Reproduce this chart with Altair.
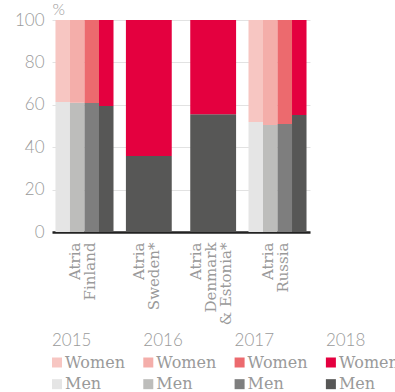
import altair as alt
import pandas as pd

groups = ["Atria|Finland", "Atria|Sweden*", "Atria|Denmark|& Estonia*", "Atria|Russia"]
years = ["2015", "2016", "2017", "2018"]
genders = ["Women", "Men"]
finland_men = [61.3, 61.0, 60.8, 59.4]
russia_men = [51.9, 50.5, 50.9, 55.2]
sweden_men_2018 = 35.8
denmark_men_2018 = 55.5
women_colors = ["#f7c6c2", "#f4aeaa", "#ec6a6e", "#e4003f"]
men_colors = ["#e5e5e5", "#bdbdbb", "#7e7e7e", "#575756"]
y_ticks = [0, 20, 40, 60, 80, 100]

rows = []
def add(group, year, men, multi):
    rows.append(dict(group=group, year=year, key="Men " + year, lo=0, hi=men, multi=multi))
    rows.append(dict(group=group, year=year, key="Women " + year, lo=men, hi=100, multi=multi))

for yr, m in zip(years, finland_men):
    add(groups[0], yr, m, True)
add(groups[1], "2018", sweden_men_2018, False)
add(groups[2], "2018", denmark_men_2018, False)
for yr, m in zip(years, russia_men):
    add(groups[3], yr, m, True)
df = pd.DataFrame(rows)

keys = ["Women " + y for y in years] + ["Men " + y for y in years]
color = alt.Color("key:N", scale=alt.Scale(domain=keys, range=women_colors + men_colors), legend=None)

NUM_FONT = "Lato"
TXT_FONT = "DejaVu Serif"
GREY = "#9a9a9a"

x = alt.X("group:N", title=None,
          scale=alt.Scale(domain=groups, paddingInner=0.098, paddingOuter=0.054),
          axis=alt.Axis(labelExpr="split(datum.label, '|')", labelAngle=270,
                        labelAlign="right", labelBaseline="middle", labelPadding=10,
                        labelOffset={"condition": {"test": "indexof(datum.value, 'Denmark') >= 0", "value": -17},
                                     "value": -9.5},
                        labelFont=TXT_FONT, labelFontSize=15, labelColor=GREY,
                        labelLineHeight=15, ticks=False, domainColor="#222222",
                        domainWidth=2.5, grid=False))
y = alt.Y("lo:Q", scale=alt.Scale(domain=[0, 100], nice=False),
          axis=alt.Axis(values=y_ticks, title="%", titleAngle=0, titleX=0, titleY=-6,
                        titleAlign="left", titleBaseline="alphabetic", titleFontSize=16,
                        titleColor=GREY, titleFont=NUM_FONT, titleFontWeight=300,
                        labelFont=NUM_FONT, labelFontSize=17, labelFontWeight=300,
                        labelColor=GREY, labelPadding=8, ticks=False, domain=False,
                        gridColor="#e2e2e2", minExtent=52))

base = alt.Chart(df)
multi = base.transform_filter("datum.multi").mark_bar().encode(
    x=x,
    xOffset=alt.XOffset("year:N", scale=alt.Scale(domain=years, paddingInner=0, paddingOuter=0)),
    y=y, y2="hi:Q", color=color)
single = base.transform_filter("!datum.multi").mark_bar(width=alt.RelativeBandSize(0.79)).encode(
    x=x, y=y, y2="hi:Q", color=color)
top = alt.layer(multi, single).properties(width=258, height=212)

leg_rows = []
for yr in years:
    leg_rows.append(dict(year=int(yr), row="head", text=yr, key=""))
    for g in genders:
        leg_rows.append(dict(year=int(yr), row=g, text=g, key=g + " " + yr))
ldf = pd.DataFrame(leg_rows)

lx = alt.X("year:Q", scale=alt.Scale(domain=[2015, 2018.757], nice=False, zero=False), axis=None)
ly = alt.Y("row:N", scale=alt.Scale(domain=["head", "Women", "Men"], type="point", padding=0.5), axis=None)
lbase = alt.Chart(ldf)
heads = lbase.transform_filter("datum.row == 'head'").mark_text(
    align="left", baseline="middle", fontSize=17, font=NUM_FONT, fontWeight=300,
    color=GREY, clip=True
).encode(x=lx, y=ly, text="text:N")
squares = lbase.transform_filter("datum.row != 'head'").mark_square(
    size=100, opacity=1, xOffset=5).encode(x=lx, y=ly, color=color)
labels = lbase.transform_filter("datum.row != 'head'").mark_text(
    align="left", baseline="middle", dx=13, fontSize=16, font=TXT_FONT, color=GREY, clip=True
).encode(x=lx, y=ly, text="text:N")
legend = alt.layer(heads, squares, labels).properties(width=343, height=65)

chart = alt.vconcat(top, legend, spacing=98, bounds="flush").properties(
    padding={"left": 0, "top": 1, "right": 0, "bottom": 0}
).configure_view(stroke=None)

chart.save("out.html", embed_options={"renderer": "svg", "actions": False})
